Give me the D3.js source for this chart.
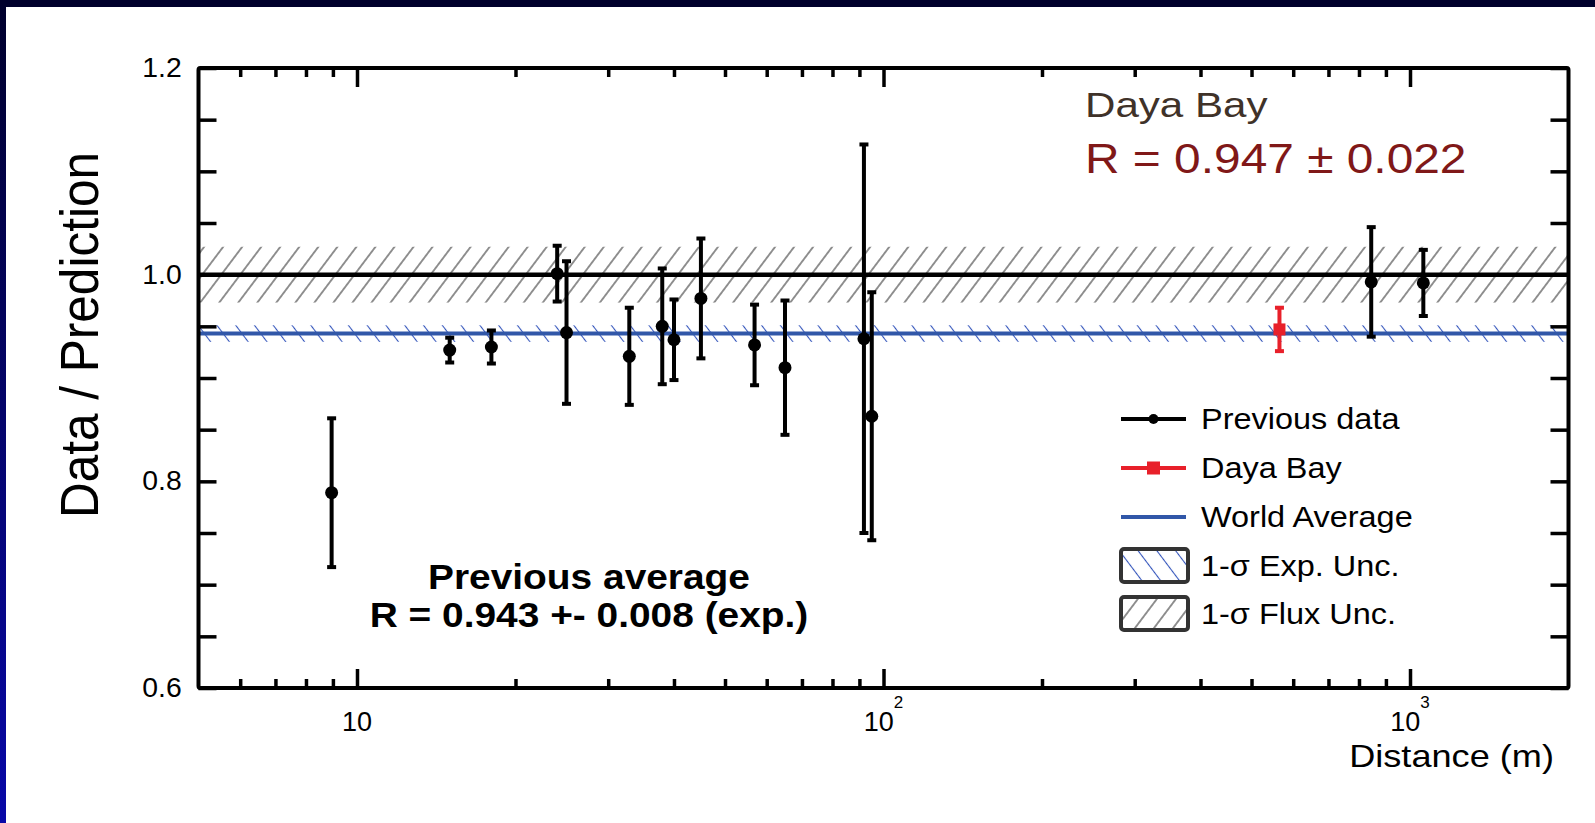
<!DOCTYPE html>
<html>
<head>
<meta charset="utf-8">
<script src="https://cdn.jsdelivr.net/npm/d3@7"></script>
<style>
body { margin: 0; background: #fff; overflow: hidden; }
svg { display: block; }
text { font-family: "Liberation Sans", Arial, Helvetica, sans-serif; }
</style>
</head>
<body>
<svg id="chart"></svg>
<script>
const distance = [8.95, 15, 18, 24, 25, 32.9, 38, 40, 45, 56.9, 65, 91.8, 95, 844, 1060];
const ratio    = [0.789, 0.927, 0.930, 1.001, 0.944, 0.921, 0.950, 0.937, 0.977, 0.932, 0.910, 0.938, 0.863, 0.993, 0.992];
const error    = [0.072, 0.012, 0.016, 0.027, 0.069, 0.047, 0.056, 0.039, 0.058, 0.039, 0.065, 0.188, 0.120, 0.053, 0.032];

// Daya Bay point
const dayaBayDistance = 565;
const dayaBayRatio = 0.947;
const dayaBayError = 0.021;

// averages / uncertainty bands
const worldAverage = 0.943;
const expUnc = 0.008;
const fluxCenter = 1.0;
const fluxUnc = 0.027;

// axis ticks
const yTicks = [0.6, 0.65, 0.7, 0.75, 0.8, 0.85, 0.9, 0.95, 1.0, 1.05, 1.1, 1.15, 1.2];
const yLabels = [0.6, 0.8, 1.0, 1.2];
const xMajorTicks = [10, 100, 1000];
const xMinorTicks = [6, 7, 8, 9, 20, 30, 40, 50, 60, 70, 80, 90, 200, 300, 400, 500, 600, 700, 800, 900];
const xLabels = [{ v: 10, base: '10', exp: '' }, { v: 100, base: '10', exp: '2' }, { v: 1000, base: '10', exp: '3' }];

const legendItems = ['Previous data', 'Daya Bay', 'World Average', '1-\u03c3 Exp. Unc.', '1-\u03c3 Flux Unc.'];

const W = 1595, H = 823;
const svg = d3.select('#chart').attr('width', W).attr('height', H);
const defs = svg.append('defs');

// slide border (top + left)
const grad = defs.append('linearGradient').attr('id', 'leftBorder')
    .attr('x1', 0).attr('x2', 0).attr('y1', 0).attr('y2', 1);
grad.append('stop').attr('offset', '0%').attr('stop-color', '#00002c');
grad.append('stop').attr('offset', '100%').attr('stop-color', '#0808a8');
svg.append('rect').attr('width', W).attr('height', 7).attr('fill', '#00002c');
svg.append('rect').attr('width', 6).attr('height', H).attr('fill', 'url(#leftBorder)');

// hatch patterns
function hatch(id, angle, color, spacing) {
    const p = defs.append('pattern').attr('id', id)
        .attr('patternUnits', 'userSpaceOnUse')
        .attr('width', spacing).attr('height', 40)
        .attr('patternTransform', `rotate(${angle})`);
    p.append('line')
        .attr('x1', spacing / 2).attr('x2', spacing / 2)
        .attr('y1', -5).attr('y2', 45)
        .attr('stroke', color).attr('stroke-width', 1.1);
}
hatch('fluxHatch', 37, '#3a3a3a', 15.2);
hatch('expHatch', -37, '#3355bb', 15);

// scales
const x = d3.scaleLog().domain([5, 2000]).range([198.5, 1568.5]);
const y = d3.scaleLinear().domain([0.6, 1.2]).range([688, 68]);

// helper for horizontally stretched text
function stretched(parent, px, py, sx, sy) {
    return parent.append('text')
        .attr('transform', `translate(${px},${py}) scale(${sx},${sy || 1})`);
}

// uncertainty bands
svg.append('rect')
    .attr('x', x(5)).attr('width', x(2000) - x(5))
    .attr('y', y(fluxCenter + fluxUnc))
    .attr('height', y(fluxCenter - fluxUnc) - y(fluxCenter + fluxUnc))
    .attr('fill', 'url(#fluxHatch)');
svg.append('rect')
    .attr('x', x(5)).attr('width', x(2000) - x(5))
    .attr('y', y(worldAverage + expUnc))
    .attr('height', y(worldAverage - expUnc) - y(worldAverage + expUnc))
    .attr('fill', 'url(#expHatch)');

// reference lines
svg.append('line')
    .attr('x1', x(5)).attr('x2', x(2000))
    .attr('y1', y(fluxCenter)).attr('y2', y(fluxCenter))
    .attr('stroke', '#000').attr('stroke-width', 4.5);
svg.append('line')
    .attr('x1', x(5)).attr('x2', x(2000))
    .attr('y1', y(worldAverage)).attr('y2', y(worldAverage))
    .attr('stroke', '#3157a8').attr('stroke-width', 4);

// previous data with error bars
const points = distance.map((d, i) => ({ d, r: ratio[i], e: error[i] }));
const pg = svg.append('g').selectAll('g').data(points).join('g');
pg.append('line')
    .attr('x1', p => x(p.d)).attr('x2', p => x(p.d))
    .attr('y1', p => y(p.r + p.e)).attr('y2', p => y(p.r - p.e))
    .attr('stroke', '#000').attr('stroke-width', 4);
pg.append('line')
    .attr('x1', p => x(p.d) - 4.5).attr('x2', p => x(p.d) + 4.5)
    .attr('y1', p => y(p.r + p.e)).attr('y2', p => y(p.r + p.e))
    .attr('stroke', '#000').attr('stroke-width', 4);
pg.append('line')
    .attr('x1', p => x(p.d) - 4.5).attr('x2', p => x(p.d) + 4.5)
    .attr('y1', p => y(p.r - p.e)).attr('y2', p => y(p.r - p.e))
    .attr('stroke', '#000').attr('stroke-width', 4);
pg.append('circle')
    .attr('cx', p => x(p.d)).attr('cy', p => y(p.r))
    .attr('r', 6.5).attr('fill', '#000');

// Daya Bay point
const red = '#e8202a';
const db = svg.append('g');
db.append('line')
    .attr('x1', x(dayaBayDistance)).attr('x2', x(dayaBayDistance))
    .attr('y1', y(dayaBayRatio + dayaBayError)).attr('y2', y(dayaBayRatio - dayaBayError))
    .attr('stroke', red).attr('stroke-width', 4);
[dayaBayRatio + dayaBayError, dayaBayRatio - dayaBayError].forEach(v => {
    db.append('line')
        .attr('x1', x(dayaBayDistance) - 4.5).attr('x2', x(dayaBayDistance) + 4.5)
        .attr('y1', y(v)).attr('y2', y(v))
        .attr('stroke', red).attr('stroke-width', 4);
});
db.append('rect')
    .attr('x', x(dayaBayDistance) - 6).attr('y', y(dayaBayRatio) - 6)
    .attr('width', 12).attr('height', 12).attr('fill', red);

// axes
function styleAxis(g) {
    g.select('.domain').remove();
    g.selectAll('.tick line').attr('stroke', '#000').attr('stroke-width', 3.5);
}
const yFmt = d => yLabels.includes(d) ? d.toFixed(1) : '';
svg.append('g').attr('transform', `translate(${x(5)},0)`)
    .call(d3.axisLeft(y).tickValues(yTicks).tickSize(-18).tickPadding(16).tickFormat(yFmt))
    .call(styleAxis)
    .call(g => g.selectAll('.tick text')
        .attr('font-size', 27).attr('fill', '#000')
        .attr('transform', 'scale(1.05,1)'));
svg.append('g').attr('transform', `translate(${x(2000)},0)`)
    .call(d3.axisRight(y).tickValues(yTicks).tickSize(-18).tickFormat(''))
    .call(styleAxis);
svg.append('g').attr('transform', `translate(0,${y(0.6)})`)
    .call(d3.axisBottom(x).tickValues(xMajorTicks).tickSize(-19).tickFormat(''))
    .call(styleAxis);
svg.append('g').attr('transform', `translate(0,${y(0.6)})`)
    .call(d3.axisBottom(x).tickValues(xMinorTicks).tickSize(-9).tickFormat(''))
    .call(styleAxis);
svg.append('g').attr('transform', `translate(0,${y(1.2)})`)
    .call(d3.axisTop(x).tickValues(xMajorTicks).tickSize(-19).tickFormat(''))
    .call(styleAxis);
svg.append('g').attr('transform', `translate(0,${y(1.2)})`)
    .call(d3.axisTop(x).tickValues(xMinorTicks).tickSize(-9).tickFormat(''))
    .call(styleAxis);

// x tick labels (10, 10^2, 10^3)
const xl = svg.append('g').selectAll('text').data(xLabels).join('text')
    .attr('x', d => x(d.v)).attr('y', 731)
    .attr('text-anchor', 'middle').attr('font-size', 27).attr('fill', '#000');
xl.append('tspan').text(d => d.base);
xl.filter(d => d.exp).append('tspan')
    .attr('dy', -23).attr('font-size', 17).text(d => d.exp);

// frame
svg.append('rect')
    .attr('x', x(5)).attr('y', y(1.2))
    .attr('width', x(2000) - x(5)).attr('height', y(0.6) - y(1.2))
    .attr('rx', 2)
    .attr('fill', 'none').attr('stroke', '#000').attr('stroke-width', 4);

// axis titles
stretched(svg, 1554, 767, 1.13)
    .attr('text-anchor', 'end').attr('font-size', 32).attr('fill', '#000')
    .text('Distance (m)');
svg.append('text')
    .attr('transform', 'translate(98,335) scale(1.07,1) rotate(-90)')
    .attr('text-anchor', 'middle').attr('font-size', 49.5).attr('fill', '#000')
    .text('Data / Prediction');

// annotations
stretched(svg, 1085, 117, 1.17)
    .attr('font-size', 36).attr('fill', '#3f3229')
    .text('Daya Bay');
stretched(svg, 1085, 173, 1.14)
    .attr('font-size', 42).attr('fill', '#801818')
    .text('R = 0.947 \u00b1 0.022');
stretched(svg, 589, 589, 1.08)
    .attr('text-anchor', 'middle').attr('font-size', 36).attr('font-weight', 'bold').attr('fill', '#000')
    .text('Previous average');
stretched(svg, 589, 627, 1.08)
    .attr('text-anchor', 'middle').attr('font-size', 36).attr('font-weight', 'bold').attr('fill', '#000')
    .text('R = 0.943 +- 0.008 (exp.)');

// legend
const legY = [419, 468, 517, 565.5, 613.5];
const lx0 = 1121, lx1 = 1186, lxm = (lx0 + lx1) / 2;
const leg = svg.append('g');
legendItems.forEach((label, i) => {
    const ly = legY[i];
    if (i < 3) {
        const col = ['#000', red, '#3157a8'][i];
        leg.append('line').attr('x1', lx0).attr('x2', lx1).attr('y1', ly).attr('y2', ly)
            .attr('stroke', col).attr('stroke-width', 4);
        if (i === 0) leg.append('circle').attr('cx', lxm).attr('cy', ly).attr('r', 5).attr('fill', '#000');
        if (i === 1) leg.append('rect').attr('x', lxm - 6.5).attr('y', ly - 6.5)
            .attr('width', 13).attr('height', 13).attr('fill', red);
    } else {
        leg.append('rect').attr('x', lx0).attr('y', ly - 16.5).attr('width', lx1 - lx0 + 2).attr('height', 33)
            .attr('rx', 3)
            .attr('fill', i === 3 ? 'url(#expHatch)' : 'url(#fluxHatch)')
            .attr('stroke', '#333').attr('stroke-width', 4);
    }
    stretched(leg, 1201, ly + 10, 1.12)
        .attr('font-size', 29).attr('fill', '#000')
        .text(label);
});
</script>
</body>
</html>
